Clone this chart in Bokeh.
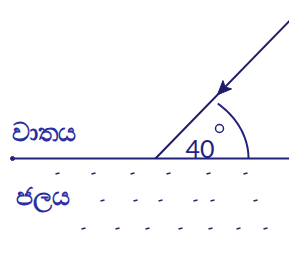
import numpy as np
from bokeh.plotting import figure
from bokeh.models import Range1d
from bokeh.core.properties import value
from bokeh.embed import file_html
from bokeh.resources import INLINE

# diagram data (reference pixel coordinates, y downward)
surface_x = [12, 300]
surface_y = [158, 158]
ray_x = [155, 300]
ray_y = [158, 9]
angle_label = "40"
air_label = "වාතය"
water_label = "ජලය"
arc_center = (155, 158)
arc_radii = (93, 74)
arc_start_deg = 0
arc_end_deg = 48

row_x = [57, 93, 132, 168, 208, 245,
         102, 135, 160, 195, 212, 255,
         83, 117, 147, 180, 210, 238, 265, 296,
         52, 90, 130]
row_y = [173] * 6 + [200] * 6 + [228] * 8 + [250] * 3

INK = "#23237e"
TXT = "#2b2fa3"

W, H = 289, 248
p = figure(width=W, height=H, output_backend="svg", toolbar_location=None,
           x_range=Range1d(0, W), y_range=Range1d(H, 0),
           min_border=0, background_fill_color="white")
p.axis.visible = False
p.grid.visible = False
p.outline_line_color = None

# interface line
p.line(surface_x, surface_y, line_color=INK, line_width=2)
p.scatter([surface_x[0]], [surface_y[0]], size=4, color=INK)

# incident ray
p.line(ray_x, ray_y, line_color="#1c1c6a", line_width=2)
dx = ray_x[0] - ray_x[1]
dy = ray_y[0] - ray_y[1]
L = np.hypot(dx, dy)
ux, uy = dx / L, dy / L
tipx = 217
tipy = ray_y[0] + (tipx - ray_x[0]) * (ray_y[1] - ray_y[0]) / (ray_x[1] - ray_x[0])
bx, by = tipx - 14 * ux, tipy - 14 * uy
px_, py_ = -uy, ux
p.patch([tipx, bx + 6 * px_, bx + 3 * ux, bx - 6 * px_],
        [tipy, by + 6 * py_, by + 3 * uy, by - 6 * py_], color="#1c1c6a")

# angle arc (hand-drawn ellipse)
t = np.radians(np.linspace(arc_start_deg, arc_end_deg, 60))
ax = arc_center[0] + arc_radii[0] * np.cos(t)
ay = arc_center[1] - arc_radii[1] * np.sin(t)
p.line(ax, ay, line_color=INK, line_width=2)

# angle label
p.text([185], [157], text=[angle_label], text_font=value("Lato"),
       text_font_size="25px", text_color=INK, text_baseline="bottom")
p.circle([219], [128], radius=4, fill_color=None, line_color=INK, line_width=1.5)

# medium labels
p.text([11], [147], text=[air_label], text_font=value("Noto Sans"),
       text_font_size="25px", text_color=TXT, text_baseline="bottom",
       text_font_style="bold")
p.text([15], [211], text=[water_label], text_font=value("Noto Sans"),
       text_font_size="25px", text_color=TXT, text_baseline="bottom",
       text_font_style="bold")

# water marks
p.segment(x0=[x - 2 for x in row_x], y0=[y + 0.5 for y in row_y],
          x1=[x + 2 for x in row_x], y1=[y - 0.5 for y in row_y],
          line_color="#2a2a60", line_width=1.5)

open("out.html", "w").write(file_html(p, INLINE))
